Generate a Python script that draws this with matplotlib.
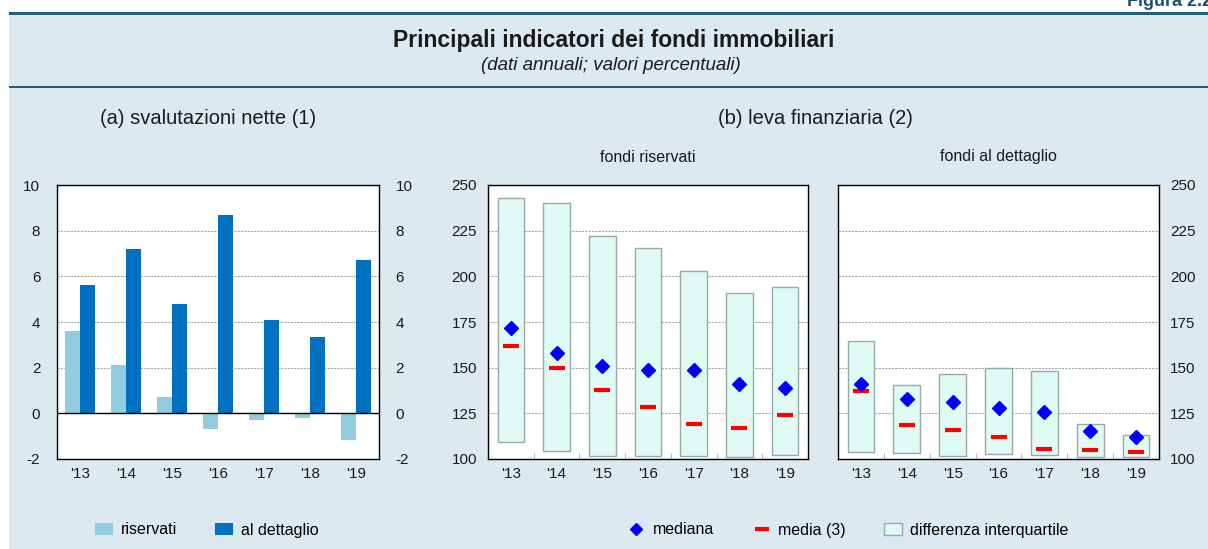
import matplotlib
matplotlib.use("Agg")
import matplotlib.pyplot as plt
from matplotlib.patches import Patch, Rectangle
from matplotlib.lines import Line2D
import numpy as np

plt.rcParams['font.family'] = ['Liberation Sans', 'DejaVu Sans']

# anni
years = ["'13", "'14", "'15", "'16", "'17", "'18", "'19"]

# (a) svalutazioni nette
sval_riservati = [3.6, 2.1, 0.7, -0.7, -0.3, -0.2, -1.15]
sval_dettaglio = [5.6, 7.2, 4.8, 8.7, 4.1, 3.35, 6.7]

# (b) leva finanziaria - fondi riservati
ris_q1 = [109.3, 104.2, 101.8, 101.8, 101.8, 101.1, 102.2]
ris_q3 = [242.7, 240.3, 221.9, 215.4, 202.8, 190.8, 193.9]
ris_mediana = [171.6, 158.3, 150.7, 148.7, 148.8, 140.8, 138.8]
ris_media = [162.0, 149.9, 137.7, 128.6, 119.0, 117.0, 123.9]

# (b) leva finanziaria - fondi al dettaglio
det_q1 = [104.0, 103.1, 101.8, 102.6, 102.2, 101.1, 101.1]
det_q3 = [164.5, 140.5, 146.5, 149.8, 148.1, 119.1, 113.1]
det_mediana = [141.2, 132.8, 131.0, 127.9, 125.5, 115.1, 112.0]
det_media = [137.4, 118.8, 115.9, 112.0, 105.6, 105.1, 104.0]

W, H = 1208, 549
BG = '#dde9f1'
LINE = '#1f5f80'
C_RIS = '#92cddf'
C_DET = '#0070c0'
BOX_FILL = '#e0fbf6'
BOX_EDGE = '#9aa8a6'
GRID = '#a8a8a8'
TXT = '#1a1a1a'
FS = 11
FS_LEG = 11.5

fig = plt.figure(figsize=(W / 100, H / 100), dpi=100)
fig.patch.set_facecolor('white')


def px_axes(x0, y0, x1, y1, **kw):
    return fig.add_axes([x0 / W, 1 - y1 / H, (x1 - x0) / W, (y1 - y0) / H], **kw)


# sfondo e fasce dell'intestazione
bg = px_axes(0, 0, W, H)
bg.set_xlim(0, W)
bg.set_ylim(H, 0)
bg.axis('off')
bg.add_patch(Rectangle((9, 12), W - 9, H - 12, facecolor=BG, edgecolor='none'))
bg.add_patch(Rectangle((9, 12), W - 9, 3, facecolor=LINE, edgecolor='none'))
bg.add_patch(Rectangle((9, 86), W - 9, 2, facecolor=LINE, edgecolor='none'))
bg.text(1212, 6, 'Figura 2.2', fontsize=13, fontweight='bold', color='#1d4f72',
        va='baseline', ha='right', clip_on=True)
bg.text(614, 41, 'Principali indicatori dei fondi immobiliari', fontsize=16.5,
        fontweight='bold', color=TXT, ha='center', va='center')
bg.text(611, 66, '(dati annuali; valori percentuali)', fontsize=13.5,
        fontstyle='italic', color=TXT, ha='center', va='center')
bg.text(208, 118, '(a) svalutazioni nette (1)', fontsize=14.5, color=TXT,
        ha='center', va='center')
bg.text(815, 118, '(b) leva finanziaria (2)', fontsize=14.5, color=TXT,
        ha='center', va='center')
bg.text(648, 157, 'fondi riservati', fontsize=11.5, color=TXT,
        ha='center', va='center')
bg.text(998, 157, 'fondi al dettaglio', fontsize=11.5, color=TXT,
        ha='center', va='center')

x = np.arange(len(years))

# (a) svalutazioni nette
ax_a = px_axes(57, 185, 379, 459)
bw = 0.33
ax_a.bar(x - bw / 2, sval_riservati, width=bw, color=C_RIS, zorder=3)
ax_a.bar(x + bw / 2, sval_dettaglio, width=bw, color=C_DET, zorder=3)
ax_a.axhline(0, color='black', lw=1, zorder=4)
ax_a.set_ylim(-2, 10)
ax_a.set_yticks(range(-2, 11, 2), [str(v) for v in range(-2, 11, 2)])
ax_a.set_xlim(-0.5, len(years) - 0.5)
ax_a.set_xticks(x, years)
ax_a.yaxis.grid(True, color=GRID, lw=0.8, ls=(0, (2, 1)))
ax_a.set_axisbelow(True)
ax_a.tick_params(axis='y', length=0, labelright=True, pad=12, labelsize=FS, labelcolor=TXT)
ax_a.tick_params(axis='x', length=0, pad=6, labelsize=FS, labelcolor=TXT)


def leva_panel(ax, q1, q3, mediana, media):
    q1 = np.array(q1)
    q3 = np.array(q3)
    ax.bar(x, q3 - q1, bottom=q1, width=0.58, color=BOX_FILL, edgecolor=BOX_EDGE,
           linewidth=1, zorder=3)
    ax.plot(x, media, ls='none', marker='_', ms=11, mew=3, color='#ff0000', zorder=4)
    ax.plot(x, mediana, ls='none', marker='D', ms=7, color='#0000ff', zorder=5)
    ax.set_ylim(100, 250)
    ax.set_yticks(range(100, 251, 25))
    ax.set_xlim(-0.5, len(years) - 0.5)
    ax.set_xticks(x, years)
    ax.set_xticks(np.arange(0.5, len(years) - 1, 1), minor=True)
    ax.yaxis.grid(True, color=GRID, lw=0.8, ls=(0, (2, 1)))
    ax.set_axisbelow(True)
    ax.tick_params(axis='x', which='major', length=0, pad=6, labelsize=FS, labelcolor=TXT)
    ax.tick_params(axis='x', which='minor', direction='in', length=4, color='#b0b0b0')
    ax.tick_params(axis='y', length=0, labelsize=FS, labelcolor=TXT, pad=8)


ax_b1 = px_axes(488, 185, 808, 459)
leva_panel(ax_b1, ris_q1, ris_q3, ris_mediana, ris_media)

ax_b2 = px_axes(838, 185, 1159, 459)
leva_panel(ax_b2, det_q1, det_q3, det_mediana, det_media)
ax_b2.tick_params(axis='y', labelleft=False, labelright=True)

for ax in (ax_a, ax_b1, ax_b2):
    for s in ax.spines.values():
        s.set_color('black')
        s.set_linewidth(1)

# legende
leg_a = [Patch(facecolor=C_RIS, label='riservati'),
         Patch(facecolor=C_DET, label='al dettaglio')]
fig.legend(handles=leg_a, loc='center', bbox_to_anchor=(207 / W, 1 - 530 / H),
           ncol=2, frameon=False, fontsize=FS_LEG, handlelength=1.1, handleheight=0.7,
           handletextpad=0.5, columnspacing=2.4)

leg_b = [Line2D([], [], ls='none', marker='D', ms=6, color='#0000ff', label='mediana'),
         Line2D([], [], ls='none', marker='_', ms=10, mew=3, color='#ff0000', label='media (3)'),
         Patch(facecolor=BOX_FILL, edgecolor=BOX_EDGE, label='differenza interquartile')]
fig.legend(handles=leg_b, loc='center', bbox_to_anchor=(848 / W, 1 - 530 / H),
           ncol=3, frameon=False, fontsize=FS_LEG, handlelength=1.1, handleheight=0.7,
           handletextpad=0.5, columnspacing=2.4)

fig.savefig('out.png', dpi=100, facecolor=fig.get_facecolor())
